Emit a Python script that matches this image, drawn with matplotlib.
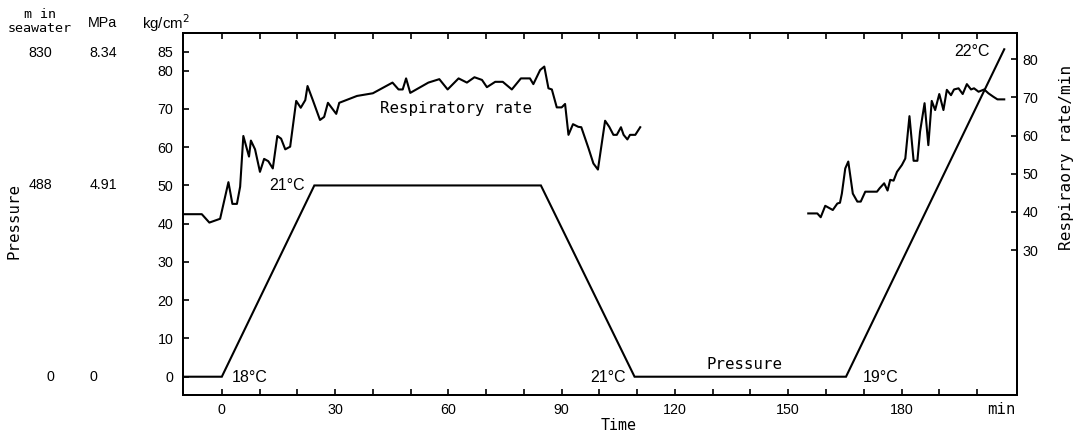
import matplotlib
matplotlib.use("Agg")
import matplotlib.pyplot as plt

# ---- data ----
pressure_t = [-10.2, 0, 24.5, 84.5, 109.3, 165.3, 207.2]
pressure_kg = [0, 0, 50, 50, 0, 0, 85.6]

resp1_t = [-10.2, -5.3, -3.3, -0.45, 1.75, 2.8, 4.0, 4.85, 5.7, 7.2, 7.7, 8.8, 10.1,
           11.2, 12.3, 13.5, 14.7, 15.7, 16.8, 18.1, 19.7, 20.9, 22.1, 22.7, 24.1,
           26.0, 27.1, 28.1, 30.3, 31.1, 35.8, 40.0, 45.2, 46.8, 47.9, 48.8, 49.9,
           54.7, 57.6, 59.8, 62.7, 64.9, 66.9, 68.9, 70.2, 72.4, 74.4, 76.8, 79.2,
           81.6, 82.5, 84.3, 85.4, 86.5, 87.4, 88.7, 90.0, 90.9, 91.8, 93.0, 94.4,
           95.2, 97.1, 98.4, 99.6, 101.5, 102.6, 103.7, 104.6, 105.7, 106.4, 107.4,
           108.1, 109.5, 110.8]
resp1_rate = [39.4, 39.4, 37.2, 38.2, 47.8, 42.1, 42.1, 46.6, 59.9, 54.5, 58.7, 56.4,
              50.5, 53.9, 53.3, 51.4, 59.9, 59.2, 56.4, 57.1, 69.1, 67.3, 69.3, 73.0,
              69.3, 64.1, 64.9, 68.6, 65.7, 68.6, 70.4, 71.1, 73.9, 72.1, 72.1, 75.0,
              71.2, 73.9, 74.8, 72.1, 75.0, 73.9, 75.3, 74.6, 72.7, 74.1, 74.1, 72.1,
              75.0, 75.0, 73.5, 77.2, 78.1, 72.4, 72.1, 67.4, 67.4, 68.3, 60.2, 63.0,
              62.3, 62.2, 56.7, 52.7, 51.1, 63.9, 62.3, 60.2, 60.2, 62.2, 60.2, 59.0,
              60.2, 60.2, 62.2]

resp2_t = [155.3, 157.7, 158.6, 159.8, 161.8, 163.0, 163.7, 164.2, 165.1, 165.9, 167.1,
           168.3, 169.2, 170.4, 173.5, 174.2, 175.4, 176.3, 177.0, 177.9, 178.8, 180.1,
           181.0, 182.1, 183.2, 184.2, 184.9, 186.1, 187.1, 188.0, 188.9, 190.0, 191.1,
           192.0, 193.1, 193.9, 195.1, 196.2, 197.3, 198.4, 199.2, 200.4, 201.9, 203.0,
           204.3, 205.4, 207.2]
resp2_rate = [39.6, 39.6, 38.6, 41.6, 40.5, 42.2, 42.4, 44.8, 51.4, 53.2, 44.8, 42.7,
              42.7, 45.3, 45.3, 46.2, 47.5, 45.6, 48.4, 48.2, 50.5, 52.3, 54.0, 65.1,
              53.4, 53.4, 61.0, 68.5, 57.5, 69.1, 66.7, 70.9, 66.7, 72.0, 70.6, 72.1,
              72.4, 70.9, 73.5, 72.1, 72.4, 71.5, 72.1, 71.1, 70.2, 69.5, 69.5]

x_ticks = [0, 10, 20, 30, 40, 50, 60, 70, 80, 90, 100, 110, 120, 130, 140, 150,
           160, 170, 180, 190, 200]
x_labels = ["0", "", "", "30", "", "", "60", "", "", "90", "", "", "120", "", "",
            "150", "", "", "180", "", ""]
left_ticks = [0, 10, 20, 30, 40, 50, 60, 70, 80, 85]
right_ticks = [30, 40, 50, 60, 70, 80]

depth_labels = ["830", "488", "0"]
mpa_labels = ["8.34", "4.91", "0"]

# ---- figure ----
W, H = 1075, 433
fig = plt.figure(figsize=(W / 100, H / 100), dpi=100)
ax = fig.add_axes([183.3 / W, 1 - 395 / H, (1016.7 - 183.3) / W, (395 - 33) / H])
ax2 = ax.twinx()

num_font = dict(family="Liberation Sans", size=10.3)
lab_font = dict(family="DejaVu Sans Mono", size=11.3)
small_mono = dict(family="DejaVu Sans Mono", size=9.6)

lw = 1.5
ax.plot(pressure_t, pressure_kg, color="black", lw=lw, solid_joinstyle="miter")
ax2.plot(resp1_t, resp1_rate, color="black", lw=lw)
ax2.plot(resp2_t, resp2_rate, color="black", lw=lw)

ax.set_xlim(-10.2, 210.5)
ax.set_ylim(-4.78, 89.85)
ax2.set_ylim(-8.0, 86.9)

ax.set_xticks(x_ticks)
ax.set_xticklabels(x_labels, **num_font)
ax.set_yticks(left_ticks)
ax.set_yticklabels([str(v) for v in left_ticks], **num_font)
ax2.set_yticks(right_ticks)
ax2.set_yticklabels([str(v) for v in right_ticks], **num_font)

ax.tick_params(axis="x", direction="in", length=4.5, width=1.2, pad=6, top=True)
ax.tick_params(axis="y", direction="in", length=4.5, width=1.2, pad=7)
ax2.tick_params(axis="y", direction="in", length=4.5, width=1.2, pad=4)
for a in (ax, ax2):
    for s in a.spines.values():
        s.set_linewidth(1.4)

# temperature annotations
deg_font = dict(family="Liberation Sans", size=11.5)
ax.text(2.5, -0.3, "18°C", ha="left", va="center", **deg_font)
ax.text(22.1, 50.0, "21°C", ha="right", va="center", **deg_font)
ax.text(107.0, -0.3, "21°C", ha="right", va="center", **deg_font)
ax.text(169.6, -0.3, "19°C", ha="left", va="center", **deg_font)
ax.text(203.3, 85.0, "22°C", ha="right", va="center", **deg_font)
ax.text(138.5, 3.3, "Pressure", ha="center", va="center", **lab_font)
ax.text(62.0, 70.0, "Respiratory rate", ha="center", va="center", **lab_font)

# figure-level texts (pixel positions)
def ftext(x, y, s, **kw):
    fig.text(x / W, 1 - y / H, s, **kw)

ftext(619, 425, "Time", ha="center", va="center", **dict(lab_font, size=10.8))
ftext(1001, 409, "min", ha="center", va="center", **lab_font)
ftext(13.5, 221, "Pressure", ha="center", va="center", rotation=90, **lab_font)
ftext(1066, 157, "Respiraory rate/min", ha="center", va="center", rotation=90,
      **dict(lab_font, size=11.6))

ftext(40, 14, "m in", ha="center", va="center", **small_mono)
ftext(40, 29, "seawater", ha="center", va="center", **small_mono)
ftext(103, 23, "MPa", ha="center", va="center", **num_font)
ftext(166, 23, "kg/cm$^2$", ha="center", va="center", **dict(num_font, size=10.8))

for lbl, y in zip(depth_labels, [53, 185, 377]):
    ftext(40 if lbl != "0" else 50, y, lbl, ha="center", va="center", **num_font)
for lbl, y in zip(mpa_labels, [53, 185, 377]):
    ftext(103 if lbl != "0" else 93, y, lbl, ha="center", va="center", **num_font)

fig.savefig("out.png", dpi=100)
